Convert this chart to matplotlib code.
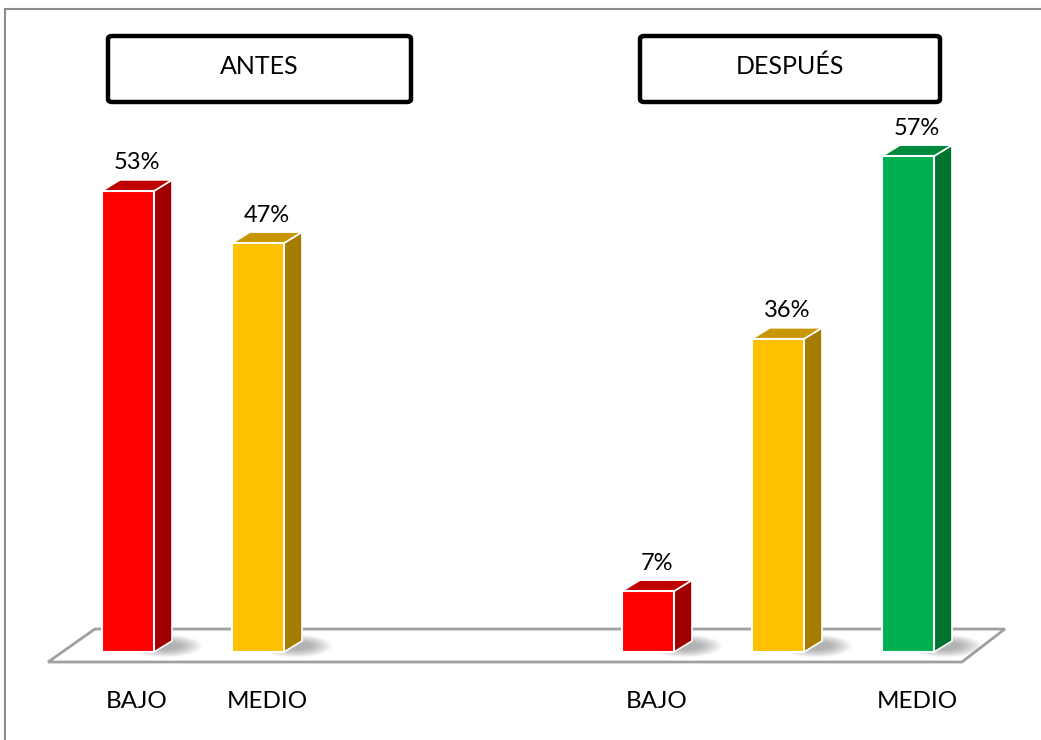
import matplotlib
matplotlib.use('Agg')
import matplotlib.pyplot as plt
from matplotlib.patches import Polygon, FancyBboxPatch, Ellipse
from matplotlib.lines import Line2D

plt.rcParams['font.family'] = ['Lato', 'DejaVu Sans']

# Data
groups = ['ANTES', 'DESPUÉS']
slots = [0, 1, 4, 5, 6]            # category slot of each bar
values = [53, 47, 7, 36, 57]       # percent
tick_labels = ['BAJO', 'MEDIO', 'BAJO', '', 'MEDIO']
front_colors = ['#FF0000', '#FFC000', '#FF0000', '#FFC000', '#00B050']
top_colors = ['#C00000', '#C89600', '#C00000', '#C89600', '#008A3E']
side_colors = ['#A00000', '#A67C00', '#A00000', '#A67C00', '#00722F']

W, H = 1041, 740
fig = plt.figure(figsize=(W / 100, H / 100), dpi=100)
ax = fig.add_axes([0, 0, 1, 1])
# 130 px per slot, slot 0 at x=128 px; 8.7 px per %, zero at y=652 px
ax.set_xlim(-128 / 130, (W - 128) / 130)
ax.set_ylim(-(H - 652) / 8.7, 652 / 8.7)
ax.axis('off')

bw = 0.4                 # bar width in slots
dx, dy = 18 / 130, 11 / 8.7   # 3D depth offset

# floor
floor = Polygon([(-0.615, -1.15), (6.415, -1.15), (6.745, 2.64), (-0.255, 2.64)],
                closed=True, facecolor='white', edgecolor='#A0A0A0', lw=2, zorder=1)
ax.add_patch(floor)

# soft shadows (stacked translucent ellipses)
for x in slots:
    cx = x + bw / 2 + dx / 2 + 0.02
    for k in range(10):
        ax.add_patch(Ellipse((cx, 0.7), 0.55 - k * 0.035, 2.6 - k * 0.18,
                             facecolor='#505050', edgecolor='none', alpha=0.05, zorder=2))

# bars
ax.bar(slots, values, bw, color=front_colors, edgecolor='white', linewidth=1.5, zorder=4)
for x, v, tc, sc in zip(slots, values, top_colors, side_colors):
    side = Polygon([(x + bw / 2, 0), (x + bw / 2 + dx, dy), (x + bw / 2 + dx, v + dy), (x + bw / 2, v)],
                   closed=True, facecolor=sc, edgecolor='white', lw=1.2, zorder=3)
    top = Polygon([(x - bw / 2, v), (x + bw / 2, v), (x + bw / 2 + dx, v + dy), (x - bw / 2 + dx, v + dy)],
                  closed=True, facecolor=tc, edgecolor='white', lw=1.2, zorder=3)
    ax.add_patch(side)
    ax.add_patch(top)
    ax.text(x + dx / 2, v + 28 / 8.7, f'{v}%', ha='center', va='center', fontsize=17, zorder=5)

# category labels
for x, lab in zip(slots, tick_labels):
    ax.text(x + dx / 2, -50 / 8.7, lab, ha='center', va='center', fontsize=17.5)

# group header boxes (pixel extents -> figure fraction)
boxes = [(108, 411), (640, 940)]
for (x0, x1), g in zip(boxes, groups):
    y0, y1 = 36, 102
    fig.add_artist(FancyBboxPatch((x0 / W, 1 - y1 / H), (x1 - x0) / W, (y1 - y0) / H,
                                  boxstyle='round,pad=0,rounding_size=0.004',
                                  transform=fig.transFigure, facecolor='white',
                                  edgecolor='black', lw=3.2))
    fig.text((x0 + x1) / 2 / W, 1 - 66 / H, g, ha='center', va='center', fontsize=18)

# outer chart border (top and left visible)
fig.add_artist(Line2D([5 / W, 1], [1 - 9 / H, 1 - 9 / H], color='#8C8C8C', lw=1.5,
                      transform=fig.transFigure))
fig.add_artist(Line2D([5 / W, 5 / W], [0, 1 - 9 / H], color='#8C8C8C', lw=1.5,
                      transform=fig.transFigure))

fig.savefig('out.png', dpi=100)
